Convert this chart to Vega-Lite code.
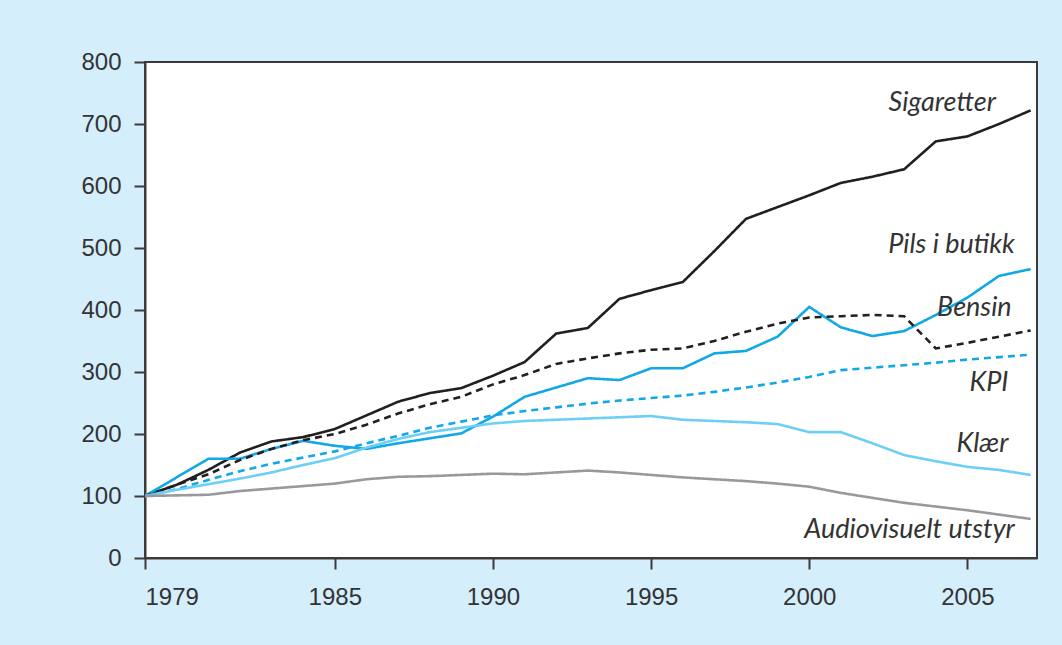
{
  "$schema": "https://vega.github.io/schema/vega-lite/v6.json",
  "width": 892,
  "height": 496,
  "autosize": "none",
  "padding": {"left": 145, "top": 62, "right": 25, "bottom": 87},
  "background": "#d4eefb",
  "config": {
    "view": {"fill": "white", "stroke": "#3a3a3a", "strokeWidth": 2},
    "font": "Liberation Sans"
  },
  "datasets": {
    "series": [
      {"year": 1979, "Sigaretter": 100, "Pils i butikk": 100, "Bensin": 100, "KPI": 100, "Klær": 100, "Audiovisuelt utstyr": 100},
      {"year": 1980, "Sigaretter": 118, "Pils i butikk": 130, "Bensin": 118, "KPI": 111, "Klær": 110, "Audiovisuelt utstyr": 101},
      {"year": 1981, "Sigaretter": 142, "Pils i butikk": 160, "Bensin": 135, "KPI": 126, "Klær": 119, "Audiovisuelt utstyr": 102},
      {"year": 1982, "Sigaretter": 170, "Pils i butikk": 160, "Bensin": 158, "KPI": 140, "Klær": 128, "Audiovisuelt utstyr": 108},
      {"year": 1983, "Sigaretter": 188, "Pils i butikk": 176, "Bensin": 176, "KPI": 152, "Klær": 138, "Audiovisuelt utstyr": 112},
      {"year": 1984, "Sigaretter": 195, "Pils i butikk": 189, "Bensin": 190, "KPI": 162, "Klær": 150, "Audiovisuelt utstyr": 116},
      {"year": 1985, "Sigaretter": 208, "Pils i butikk": 181, "Bensin": 200, "KPI": 172, "Klær": 161, "Audiovisuelt utstyr": 120},
      {"year": 1986, "Sigaretter": 230, "Pils i butikk": 176, "Bensin": 215, "KPI": 185, "Klær": 178, "Audiovisuelt utstyr": 127},
      {"year": 1987, "Sigaretter": 252, "Pils i butikk": 185, "Bensin": 233, "KPI": 197, "Klær": 192, "Audiovisuelt utstyr": 131},
      {"year": 1988, "Sigaretter": 266, "Pils i butikk": 193, "Bensin": 248, "KPI": 210, "Klær": 203, "Audiovisuelt utstyr": 132},
      {"year": 1989, "Sigaretter": 274, "Pils i butikk": 201, "Bensin": 260, "KPI": 220, "Klær": 210, "Audiovisuelt utstyr": 134},
      {"year": 1990, "Sigaretter": 294, "Pils i butikk": 228, "Bensin": 280, "KPI": 230, "Klær": 217, "Audiovisuelt utstyr": 136},
      {"year": 1991, "Sigaretter": 316, "Pils i butikk": 260, "Bensin": 295, "KPI": 237, "Klær": 221, "Audiovisuelt utstyr": 135},
      {"year": 1992, "Sigaretter": 362, "Pils i butikk": 275, "Bensin": 313, "KPI": 243, "Klær": 223, "Audiovisuelt utstyr": 138},
      {"year": 1993, "Sigaretter": 371, "Pils i butikk": 290, "Bensin": 322, "KPI": 249, "Klær": 225, "Audiovisuelt utstyr": 141},
      {"year": 1994, "Sigaretter": 418, "Pils i butikk": 287, "Bensin": 330, "KPI": 254, "Klær": 227, "Audiovisuelt utstyr": 138},
      {"year": 1995, "Sigaretter": 432, "Pils i butikk": 306, "Bensin": 336, "KPI": 258, "Klær": 229, "Audiovisuelt utstyr": 134},
      {"year": 1996, "Sigaretter": 445, "Pils i butikk": 306, "Bensin": 338, "KPI": 262, "Klær": 223, "Audiovisuelt utstyr": 130},
      {"year": 1997, "Sigaretter": 495, "Pils i butikk": 330, "Bensin": 350, "KPI": 268, "Klær": 221, "Audiovisuelt utstyr": 127},
      {"year": 1998, "Sigaretter": 547, "Pils i butikk": 334, "Bensin": 365, "KPI": 275, "Klær": 219, "Audiovisuelt utstyr": 124},
      {"year": 1999, "Sigaretter": 566, "Pils i butikk": 357, "Bensin": 378, "KPI": 283, "Klær": 216, "Audiovisuelt utstyr": 120},
      {"year": 2000, "Sigaretter": 585, "Pils i butikk": 405, "Bensin": 388, "KPI": 292, "Klær": 203, "Audiovisuelt utstyr": 115},
      {"year": 2001, "Sigaretter": 605, "Pils i butikk": 372, "Bensin": 390, "KPI": 303, "Klær": 203, "Audiovisuelt utstyr": 105},
      {"year": 2002, "Sigaretter": 615, "Pils i butikk": 358, "Bensin": 392, "KPI": 307, "Klær": 185, "Audiovisuelt utstyr": 97},
      {"year": 2003, "Sigaretter": 627, "Pils i butikk": 366, "Bensin": 390, "KPI": 311, "Klær": 166, "Audiovisuelt utstyr": 89},
      {"year": 2004, "Sigaretter": 672, "Pils i butikk": 392, "Bensin": 338, "KPI": 315, "Klær": 156, "Audiovisuelt utstyr": 83},
      {"year": 2005, "Sigaretter": 680, "Pils i butikk": 420, "Bensin": 347, "KPI": 320, "Klær": 147, "Audiovisuelt utstyr": 77},
      {"year": 2006, "Sigaretter": 700, "Pils i butikk": 455, "Bensin": 357, "KPI": 324, "Klær": 142, "Audiovisuelt utstyr": 70},
      {"year": 2007, "Sigaretter": 722, "Pils i butikk": 466, "Bensin": 367, "KPI": 328, "Klær": 134, "Audiovisuelt utstyr": 63}
    ],
    "labels": [
      {"label": "Sigaretter", "x": 2005.9, "y": 734},
      {"label": "Pils i butikk", "x": 2006.5, "y": 505},
      {"label": "Bensin", "x": 2006.4, "y": 403},
      {"label": "KPI", "x": 2006.3, "y": 282},
      {"label": "Klær", "x": 2006.3, "y": 184},
      {"label": "Audiovisuelt utstyr", "x": 2006.5, "y": 45}
    ]
  },
  "layer": [
    {
      "data": {"name": "series"},
      "transform": [
        {"fold": ["Sigaretter", "Pils i butikk", "Bensin", "KPI", "Klær", "Audiovisuelt utstyr"], "as": ["serie", "value"]}
      ],
      "mark": {"type": "line", "strokeWidth": 2.6, "clip": true},
      "encoding": {
        "x": {
          "field": "year", "type": "quantitative",
          "scale": {"domain": [1979, 2007.2], "nice": false, "zero": false},
          "axis": {
            "title": null, "values": [1979, 1985, 1990, 1995, 2000, 2005], "format": "d",
            "grid": false, "domainColor": "#3a3a3a", "domainWidth": 2, "tickColor": "#3a3a3a", "tickWidth": 2,
            "tickSize": 11, "labelFontSize": 24, "labelColor": "#333333", "labelPadding": 16, "labelFont": "Liberation Sans"
          }
        },
        "y": {
          "field": "value", "type": "quantitative",
          "scale": {"domain": [0, 800], "nice": false},
          "axis": {
            "title": null, "values": [0, 100, 200, 300, 400, 500, 600, 700, 800],
            "grid": false, "domainColor": "#3a3a3a", "domainWidth": 2, "tickColor": "#3a3a3a", "tickWidth": 2,
            "tickSize": 11, "labelFontSize": 24, "labelColor": "#333333", "labelPadding": 13, "labelFont": "Liberation Sans"
          }
        },
        "color": {
          "field": "serie", "type": "nominal",
          "scale": {
            "domain": ["Sigaretter", "Pils i butikk", "Bensin", "KPI", "Klær", "Audiovisuelt utstyr"],
            "range": ["#231f20", "#12a8e6", "#231f20", "#12a8e6", "#6dcff6", "#97999c"]
          },
          "legend": null
        },
        "strokeDash": {
          "field": "serie", "type": "nominal",
          "scale": {
            "domain": ["Sigaretter", "Pils i butikk", "Bensin", "KPI", "Klær", "Audiovisuelt utstyr"],
            "range": [[1, 0], [1, 0], [7, 5], [7, 5], [1, 0], [1, 0]]
          },
          "legend": null
        }
      }
    },
    {
      "data": {"name": "labels"},
      "mark": {"type": "text", "align": "right", "baseline": "middle", "fontStyle": "italic", "fontSize": 27, "font": "Lato", "color": "#333333"},
      "encoding": {
        "x": {"field": "x", "type": "quantitative"},
        "y": {"field": "y", "type": "quantitative"},
        "text": {"field": "label"}
      }
    }
  ]
}
